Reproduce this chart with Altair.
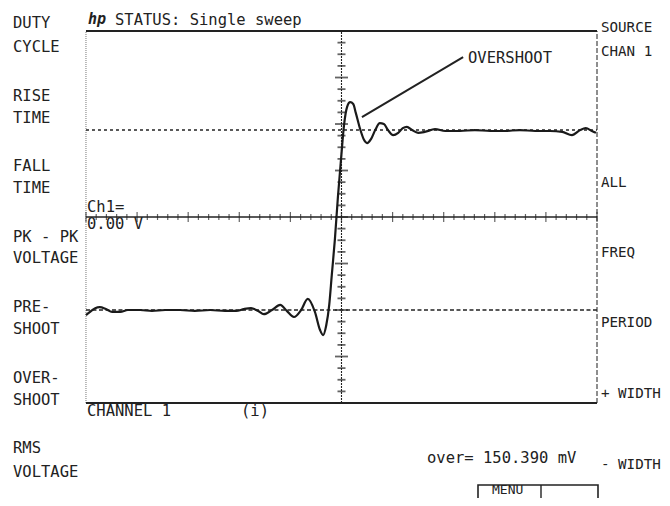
import altair as alt
import pandas as pd

# ---- Captured trace (time and amplitude in screen divisions) ----
trace_t = [-5.00, -4.92, -4.82, -4.73, -4.61, -4.49, -4.33, -4.18, -3.94, -3.71,
           -3.45, -3.16, -2.87, -2.57, -2.28, -2.06, -1.91, -1.77, -1.63, -1.52,
           -1.36, -1.20, -1.07, -0.93, -0.79, -0.66, -0.52, -0.42, -0.36, -0.30,
           -0.24, -0.19, -0.13, -0.07, -0.01, 0.05, 0.11, 0.17, 0.23, 0.28,
           0.36, 0.44, 0.50, 0.58, 0.66, 0.75, 0.83, 0.91, 1.01, 1.11,
           1.20, 1.28, 1.38, 1.50, 1.63, 1.83, 2.03, 2.32, 2.61, 2.91,
           3.20, 3.49, 3.79, 4.08, 4.32, 4.51, 4.67, 4.78, 4.90, 4.98]
trace_v = [-2.11, -2.04, -1.96, -1.94, -1.98, -2.04, -2.04, -2.00, -2.00, -2.02,
           -2.00, -2.00, -2.02, -2.00, -2.02, -2.02, -1.98, -1.96, -2.02, -2.09,
           -2.00, -1.89, -2.02, -2.15, -2.00, -1.76, -2.04, -2.43, -2.54, -2.34,
           -1.89, -1.25, -0.49, 0.43, 1.23, 1.98, 2.37, 2.47, 2.43, 2.24,
           1.91, 1.66, 1.59, 1.68, 1.87, 2.02, 2.00, 1.87, 1.76, 1.81,
           1.91, 1.94, 1.87, 1.81, 1.83, 1.89, 1.85, 1.85, 1.87, 1.85,
           1.85, 1.87, 1.85, 1.85, 1.83, 1.76, 1.87, 1.91, 1.85, 1.81]

top_level = 1.87     # dotted marker (top)
base_level = -2.00   # dashed marker (base)

# graticule: 10 x 8 divisions; 5 subdivisions horizontally, 4 vertically
h_ticks = [i / 5 for i in range(-25, 26)]
v_ticks = [i / 4 for i in range(-16, 17)]

# overshoot annotation leader (divisions)
leader_t = [0.40, 2.38]
leader_v = [2.15, 3.44]

left_menu = ["DUTY", "CYCLE", "RISE", "TIME", "FALL", "TIME", "PK - PK", "VOLTAGE",
             "PRE-", "SHOOT", "OVER-", "SHOOT", "RMS", "VOLTAGE"]
right_menu = ["SOURCE", "CHAN 1", "ALL", "FREQ", "PERIOD", "+ WIDTH", "- WIDTH"]

# ---- layout ----
W, H = 654, 490
X_DOMAIN = [-6.526, 6.272]
Y_DOMAIN = [-6.043, 4.495]
xs = alt.Scale(domain=X_DOMAIN, nice=False, zero=False)
ys = alt.Scale(domain=Y_DOMAIN, nice=False, zero=False)
INK = "#222222"
FONT = "DejaVu Sans Mono"
FS = 15.5


def X(f):
    return alt.X(f, type="quantitative", scale=xs, axis=None)


def Y(f):
    return alt.Y(f, type="quantitative", scale=ys, axis=None)


def hline(v, t0, t1, **kw):
    opts = dict(color=INK)
    opts.update(kw)
    df = pd.DataFrame({"t0": [t0], "t1": [t1], "v": [v]})
    return alt.Chart(df).mark_rule(**opts).encode(
        x=X("t0"), x2="t1", y=Y("v"))


def vline(t, v0, v1, **kw):
    opts = dict(color=INK)
    opts.update(kw)
    df = pd.DataFrame({"t": [t], "v0": [v0], "v1": [v1]})
    return alt.Chart(df).mark_rule(**opts).encode(
        x=X("t"), y=Y("v0"), y2="v1")


def label(s, px, py, align="left", **kw):
    opts = dict(align=align, baseline="middle", font=FONT, fontSize=FS, color=INK)
    opts.update(kw)
    return alt.Chart(alt.Data(values=[{}])).mark_text(**opts).encode(
        x=alt.value(px - 8), y=alt.value(py - 8), text=alt.value(s))


layers = []
# frame
layers.append(vline(-5, -4, 4, strokeWidth=1, strokeDash=[1, 1], color="#777777"))
layers.append(vline(5, -4, 4, strokeWidth=1.2, strokeDash=[5, 2], color="#444444"))
layers.append(hline(4, -5, 5, strokeWidth=2))
layers.append(hline(-4, -5, 5, strokeWidth=2))
# level markers
layers.append(hline(top_level, -5, 5, strokeWidth=1.4, strokeDash=[3, 3]))
layers.append(hline(base_level, -5, 5, strokeWidth=1.4, strokeDash=[4, 2.5]))
# center axes
layers.append(hline(0, -5, 5, strokeWidth=1.6))
layers.append(vline(0, -4, 4, strokeWidth=1.1, strokeDash=[2, 1]))

ht = pd.DataFrame({"t": h_ticks, "v": [0.0] * len(h_ticks),
                   "major": [abs(t - round(t)) < 1e-9 for t in h_ticks]})
vt = pd.DataFrame({"v": v_ticks, "t": [0.0] * len(v_ticks),
                   "major": [abs(v - round(v)) < 1e-9 for v in v_ticks]})
layers.append(alt.Chart(ht[~ht.major]).mark_tick(orient="vertical", size=6, thickness=1.2, color=INK)
              .encode(x=X("t"), y=Y("v")))
layers.append(alt.Chart(ht[ht.major]).mark_tick(orient="vertical", size=10, thickness=1.2, color=INK)
              .encode(x=X("t"), y=Y("v")))
layers.append(alt.Chart(vt[~vt.major]).mark_tick(orient="horizontal", size=8, thickness=1.8, color=INK)
              .encode(x=X("t"), y=Y("v")))
layers.append(alt.Chart(vt[vt.major]).mark_tick(orient="horizontal", size=13, thickness=1.8, color=INK)
              .encode(x=X("t"), y=Y("v")))

# waveform
wave = pd.DataFrame({"t": trace_t, "v": trace_v})
layers.append(alt.Chart(wave).mark_line(color="#1a1a1a", strokeWidth=2.2, interpolate="monotone")
              .encode(x=X("t"), y=Y("v")))

# overshoot leader
ld = pd.DataFrame({"t0": [leader_t[0]], "t1": [leader_t[1]], "v0": [leader_v[0]], "v1": [leader_v[1]]})
layers.append(alt.Chart(ld).mark_rule(color=INK, strokeWidth=2)
              .encode(x=X("t0"), x2="t1", y=Y("v0"), y2="v1"))

# texts
left_y = [23, 47, 96, 118, 166, 188, 237, 258, 307, 329, 378, 400, 448, 472]
for s, py in zip(left_menu, left_y):
    layers.append(label(s, 13, py))
right_y = [28, 52, 183, 253, 323, 394, 465]
for s, py in zip(right_menu, right_y):
    layers.append(label(s, 601, py, fontSize=14.2))

layers.append(label("hp", 88, 19, fontStyle="italic", fontWeight="bold", fontSize=15))
layers.append(label("STATUS: Single sweep", 115, 20))
layers.append(label("OVERSHOOT", 468, 58))
layers.append(label("Ch1=", 87, 207))
layers.append(label("0.00 V", 87, 224))
layers.append(label("CHANNEL 1", 87, 411))
layers.append(label("(i)", 241, 411))
layers.append(label("over= 150.390 mV", 427, 458))

# menu key box
layers.append(alt.Chart(alt.Data(values=[{}])).mark_rect(fillOpacity=0, stroke=INK, strokeWidth=1.6)
              .encode(x=alt.value(478 - 8), x2=alt.value(598 - 8), y=alt.value(485 - 8), y2=alt.value(520 - 8)))
layers.append(alt.Chart(alt.Data(values=[{}])).mark_rule(color=INK, strokeWidth=1.4)
              .encode(x=alt.value(541 - 8), y=alt.value(485 - 8), y2=alt.value(520 - 8)))
layers.append(label("MENU", 492, 497, fontSize=13, baseline="bottom"))

chart = alt.layer(*layers).properties(
    width=W, height=H, padding=0, background="white",
    autosize=alt.AutoSizeParams(type="none"),
).configure_view(strokeWidth=0)

chart.save("out.html", embed_options={"renderer": "svg", "actions": False})
